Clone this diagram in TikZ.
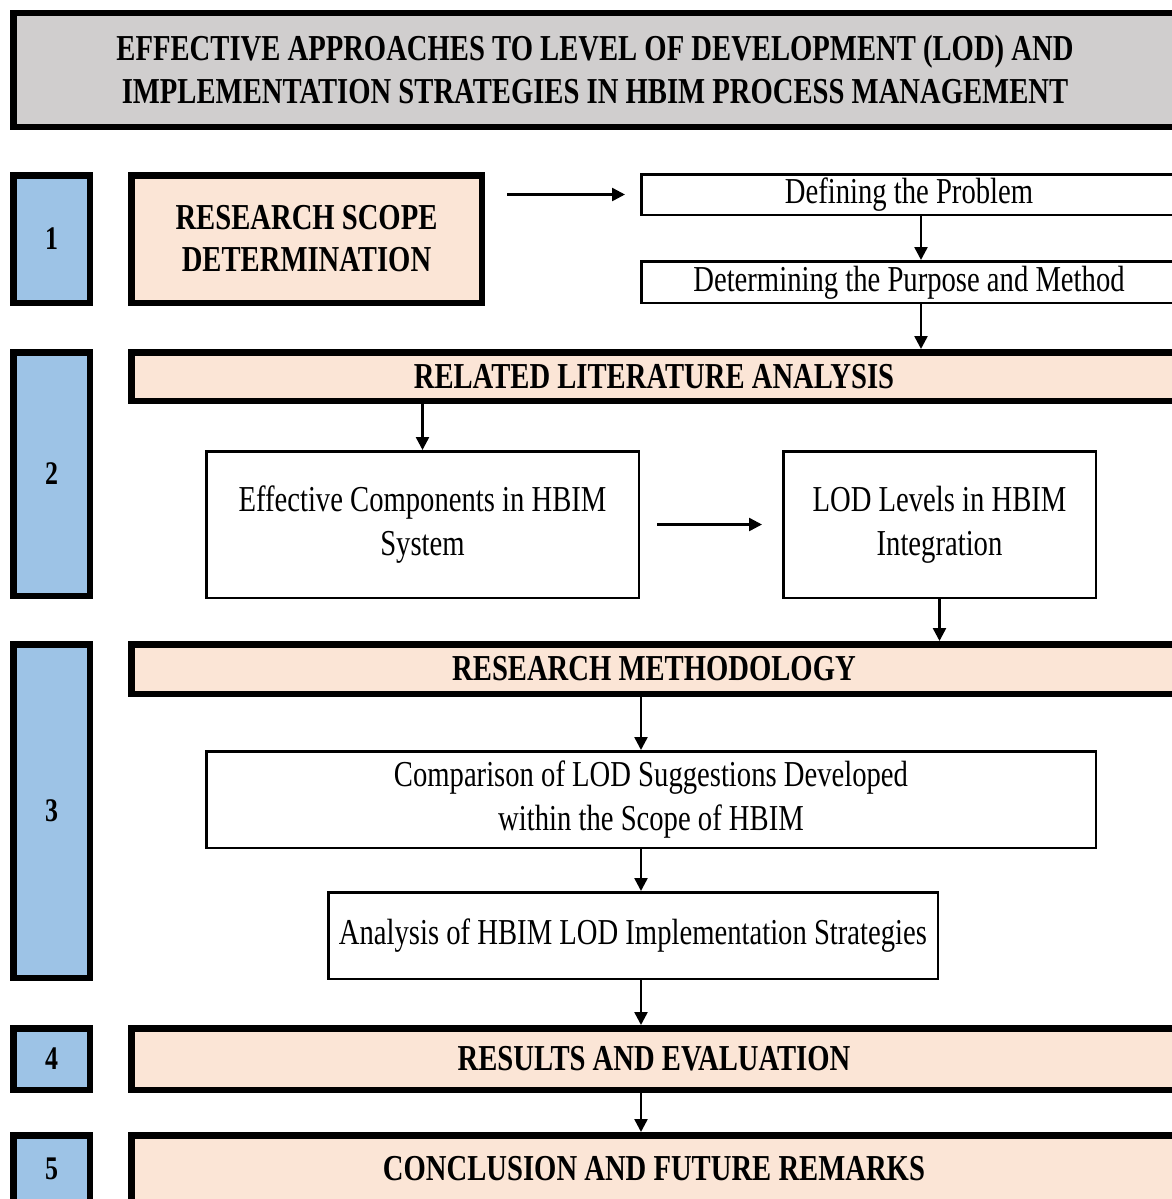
\documentclass[tikz,border=0pt]{standalone}
\usepackage{fontspec}
\setmainfont[FakeStretch=0.785]{Liberation Serif}
\usetikzlibrary{arrows.meta}
\definecolor{titlegray}{HTML}{D0CECE}
\definecolor{stepblue}{HTML}{9DC3E6}
\definecolor{phasepeach}{HTML}{FBE5D6}
\tikzset{
  stepbox/.style={draw, line width=6.5pt, fill=stepblue, minimum width=76.5pt, inner sep=0pt,
    font=\fontsize{33}{38}\selectfont\bfseries},
  phasebox/.style={draw, line width=6.5pt, fill=phasepeach, align=center, inner sep=0pt,
    font=\fontsize{36.5}{43}\selectfont\bfseries},
  taskbox/.style={draw, line width=2.5pt, fill=white, align=center, inner sep=0pt,
    font=\fontsize{36.5}{44}\selectfont},
  flow/.style={line width=2.5pt, -{Triangle[length=13pt,width=13pt]}}
}
\begin{document}
\begin{tikzpicture}[x=1pt,y=-1pt]
\useasboundingbox (0,0) rectangle (1171,1199);
\fill[white] (0,0) rectangle (1171,1199);

\node[draw, line width=6.5pt, fill=titlegray, align=center, inner sep=0pt,
  minimum width=1163.5pt, minimum height=113.5pt,
  font=\fontsize{36.5}{43}\selectfont\bfseries] (title) at (595,70)
  {EFFECTIVE APPROACHES TO LEVEL OF DEVELOPMENT (LOD) AND\\IMPLEMENTATION STRATEGIES IN HBIM PROCESS MANAGEMENT};

\node[stepbox, minimum height=127.5pt] (s1) at (51.5,239) {1};
\node[stepbox, minimum height=243.5pt] (s2) at (51.5,474) {2};
\node[stepbox, minimum height=333.5pt] (s3) at (51.5,811) {3};
\node[stepbox, minimum height=61.5pt] (s4) at (51.5,1059) {4};
\node[stepbox, minimum height=67.5pt] (s5) at (51.5,1169) {5};

\node[phasebox, minimum width=350.5pt, minimum height=127.5pt, font=\fontsize{36.5}{42}\selectfont\bfseries] (scope) at (306.5,239) {RESEARCH SCOPE\\DETERMINATION};
\node[taskbox, minimum width=535.5pt, minimum height=40.5pt, text height=26pt, text depth=8pt] (def) at (909,194.5) {Defining the Problem};
\node[taskbox, minimum width=535.5pt, minimum height=41.5pt, text height=26pt, text depth=8pt] (det) at (909,282) {Determining the Purpose and Method};

\node[phasebox, minimum width=1045.5pt, minimum height=48.5pt] (rla) at (654,376.5) {RELATED LITERATURE ANALYSIS};
\node[taskbox, minimum width=432.5pt, minimum height=146.5pt] (eff) at (422.5,524.5) {Effective Components in HBIM\\System};
\node[taskbox, minimum width=312.5pt, minimum height=146.5pt] (lod) at (939.5,524.5) {LOD Levels in HBIM\\Integration};

\node[phasebox, minimum width=1045.5pt, minimum height=49.5pt] (rm) at (654,669) {RESEARCH METHODOLOGY};
\node[taskbox, minimum width=889.5pt, minimum height=96.5pt] (comp) at (651,799.5) {Comparison of LOD Suggestions Developed\\within the Scope of HBIM};
\node[taskbox, minimum width=609.5pt, minimum height=86.5pt] (ana) at (633,935.5) {Analysis of HBIM LOD Implementation Strategies};

\node[phasebox, minimum width=1045.5pt, minimum height=61.5pt] (res) at (654,1059) {RESULTS AND EVALUATION};
\node[phasebox, minimum width=1045.5pt, minimum height=67.5pt] (con) at (654,1169) {CONCLUSION AND FUTURE REMARKS};

\coordinate (rspine) at (921,0);
\coordinate (spine) at (641,0);

\draw[flow, shorten <=22pt, shorten >=15pt] (scope.east |- def.west) -- (def.west);
\draw[flow] (def.south -| rspine) -- (det.north -| rspine);
\draw[flow] (det.south -| rspine) -- (rla.north -| rspine);
\draw[flow] (eff.north |- rla.south) -- (eff.north);
\draw[flow, shorten <=17pt, shorten >=20pt] (eff.east) -- (lod.west);
\draw[flow] (lod.south) -- (lod.south |- rm.north);
\draw[flow] (rm.south -| spine) -- (comp.north -| spine);
\draw[flow] (comp.south -| spine) -- (ana.north -| spine);
\draw[flow] (ana.south -| spine) -- (res.north -| spine);
\draw[flow] (res.south -| spine) -- (con.north -| spine);
\end{tikzpicture}
\end{document}
